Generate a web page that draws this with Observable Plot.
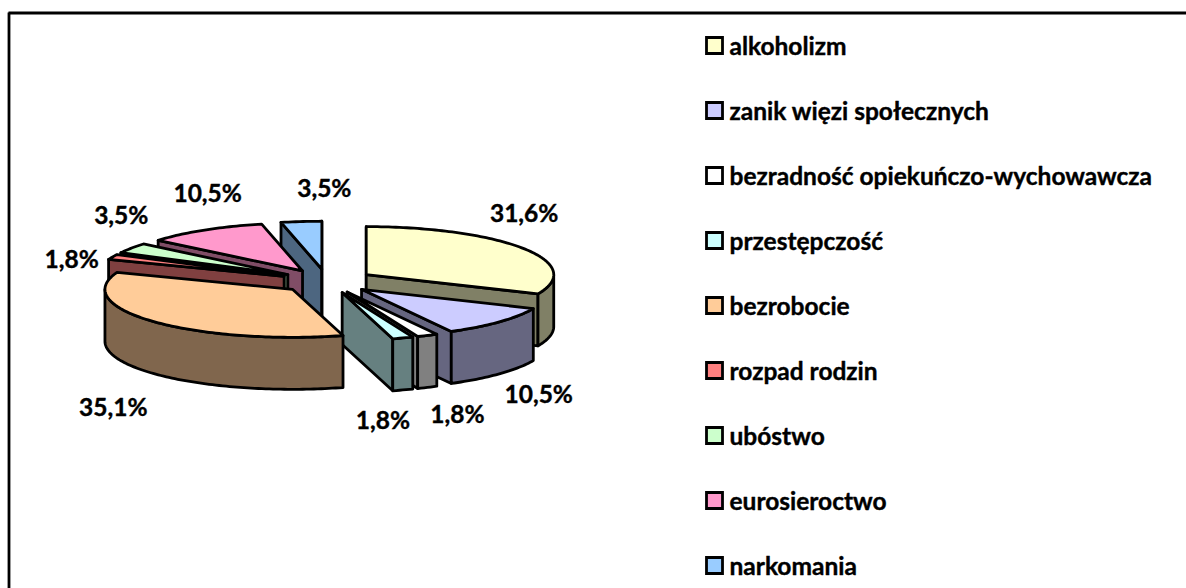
<!DOCTYPE html>
<html><head><meta charset="utf-8">
<script src="https://cdn.jsdelivr.net/npm/d3@7"></script>
<script src="https://cdn.jsdelivr.net/npm/@observablehq/plot@0.6"></script>
<style>
html,body{margin:0;padding:0;background:#fff;width:1186px;height:588px;overflow:hidden}
#chart{position:relative;width:1186px;height:588px}
#chart svg{position:absolute;left:0;top:0;background:transparent}
</style></head><body><div id="chart"></div>
<script>
const categories = ["alkoholizm","zanik więzi społecznych","bezradność opiekuńczo-wychowawcza","przestępczość","bezrobocie","rozpad rodzin","ubóstwo","eurosieroctwo","narkomania"];
const shares = [31.6,10.5,1.8,1.8,35.1,1.8,3.5,10.5,3.5];
const topColors = ["#FFFFCC","#CCCCFF","#FFFFFF","#CCFFFF","#FFCC99","#FF8080","#CCFFCC","#FF99CC","#99CCFF"];
const sideColors = ["#808066","#666680","#808080","#668080","#80664D","#804040","#668066","#804D66","#4D6680"];
const drawOrder = [8,7,6,5,0,1,2,3,4];
const labelDx = [1,39,30,-20,-41,-41,-10,3,23];
const labelDy = [-34,21,28,31,34,3,-32,-36,-32];

const FONT = "Lato, Carlito, Calibri, sans-serif";
const EXPLODE = 0.25, DEPTH = 52/48;
const total = d3.sum(shares);
let acc = 0;
const slices = shares.map((v,i)=>{
  const a0 = acc/total*2*Math.PI; acc += v; const a1 = acc/total*2*Math.PI;
  const mid = (a0+a1)/2;
  return {i,a0,a1,mid,ax:EXPLODE*Math.sin(mid),ay:-EXPLODE*Math.cos(mid)};
});
const rim = (s,a)=>[s.ax+Math.sin(a), s.ay-Math.cos(a)];
function arc(s,a0,a1){const n=Math.max(2,Math.ceil((a1-a0)/0.02));return d3.range(n+1).map(k=>rim(s,a0+(a1-a0)*k/n));}
const rows=[]; let pid=0;
function poly(pts,fill){pid++;pts.forEach(([x,y])=>rows.push({id:pid,x,y,fill}));}
const down=pts=>pts.map(([x,y])=>[x,y+DEPTH]);
for(const i of drawOrder){
  const s=slices[i], side=sideColors[i], top=topColors[i], A=[s.ax,s.ay];
  if(Math.sin(s.a0)<=1e-9 ){const P=rim(s,s.a0);poly([A,P,[P[0],P[1]+DEPTH],[A[0],A[1]+DEPTH]],side);}
  if(Math.sin(s.a1)>=-1e-9){const P=rim(s,s.a1);poly([A,P,[P[0],P[1]+DEPTH],[A[0],A[1]+DEPTH]],side);}
  const lo=Math.max(s.a0,Math.PI/2), hi=Math.min(s.a1,3*Math.PI/2);
  if(hi>lo){const r=arc(s,lo,hi);poly([...r,...down(r).reverse()],side);}
  poly([A,...arc(s,s.a0,s.a1)],top);
}
const labels = slices.map(s=>{const [x,y]=rim(s,s.mid);return {x,y:y+(Math.cos(s.mid)<0?DEPTH:0),text:shares[s.i].toFixed(1).replace(".",",")+"%",i:s.i};});
const pie = Plot.plot({
  width:1186,height:588,margin:0,
  x:{domain:[-1,1],range:[139,514],axis:null},
  y:{domain:[-1,1],range:[232.7,328.7],axis:null},
  color:{type:"identity"},
  style:{background:"transparent",overflow:"visible"},
  marks:[
    Plot.line(rows,{x:"x",y:"y",z:"id",fill:"fill",stroke:"#000",strokeWidth:2.8,curve:"linear-closed",strokeLinejoin:"round"}),
    ...labels.map(d=>Plot.text([d],{x:"x",y:"y",text:"text",dx:labelDx[d.i],dy:labelDy[d.i],fontFamily:FONT,fontWeight:700,fontSize:24.5,fill:"#000",stroke:"#000",strokeWidth:0.4}))
  ]
});
const legend = Plot.plot({
  width:1186,height:588,margin:0,
  x:{domain:[0,1],range:[714,729],axis:null},
  y:{type:"point",domain:categories,range:[45,565],padding:0,axis:null},
  color:{type:"identity"},
  style:{background:"transparent"},
  marks:[
    Plot.dot(categories,{x:()=>0,y:d=>d,symbol:"square",r:9.03,fill:(d,i)=>topColors[i],stroke:"#000",strokeWidth:2.8}),
    Plot.text(categories,{x:()=>1,y:d=>d,dy:2,text:d=>d,textAnchor:"start",fontFamily:FONT,fontWeight:700,fontSize:24.5,fill:"#000",stroke:"#000",strokeWidth:0.4})
  ]
});
const host=document.getElementById("chart");
const frame = Plot.plot({
  width:1186,height:588,margin:0,
  x:{domain:[0,1],range:[8.5,1186],axis:null},
  y:{domain:[0,1],range:[12.5,588],axis:null},
  style:{background:"#fff",overflow:"hidden"},
  marks:[
    Plot.ruleY([0],{x1:0,x2:1,stroke:"#000",strokeWidth:2.8}),
    Plot.ruleX([0],{y1:0,y2:1,stroke:"#000",strokeWidth:2.8})
  ]
});
host.append(frame,pie,legend);
</script></body></html>
